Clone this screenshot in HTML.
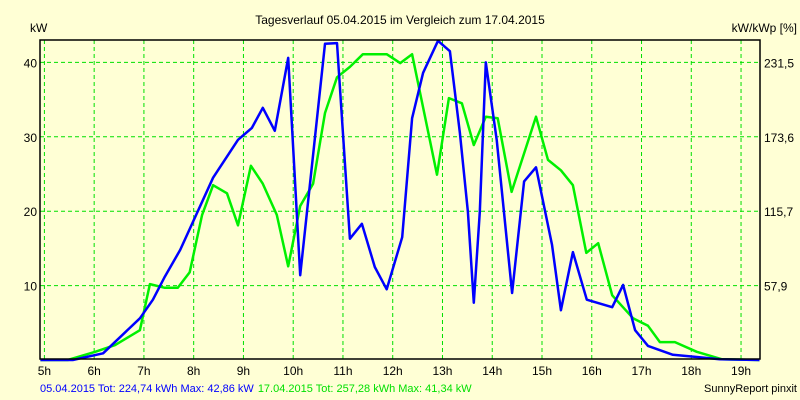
<!DOCTYPE html>
<html><head><meta charset="utf-8"><style>
body{margin:0;background:#FFFFD5;}
svg{display:block;font-family:"Liberation Sans",Arial,sans-serif;}
</style></head><body>
<svg id="chart" width="800" height="400" viewBox="0 0 800 400" xmlns="http://www.w3.org/2000/svg">
<rect x="0" y="0" width="800" height="400" fill="#FFFFD5"/>
<text x="400" y="24" font-size="12" text-anchor="middle" fill="#000">Tagesverlauf 05.04.2015 im Vergleich zum 17.04.2015</text>
<text x="30" y="32" font-size="12" fill="#000">kW</text>
<text x="797" y="32" font-size="12" text-anchor="end" fill="#000">kW/kWp [%]</text>
<g id="grid"></g>
<g id="series"></g>
<rect x="40" y="40" width="720" height="319" fill="none" stroke="#000" stroke-width="1.5"/>
<g id="labels" font-size="12"></g>
<text x="40" y="392" font-size="11"><tspan fill="#0000FF">05.04.2015 Tot: 224,74 kWh Max: 42,86 kW</tspan><tspan fill="#00E000" dx="4">17.04.2015 Tot: 257,28 kWh Max: 41,34 kW</tspan></text>
<text x="797" y="392" font-size="11" text-anchor="end" fill="#000">SunnyReport pinxit</text>
</svg>
<script>
const xTicks=[5,6,7,8,9,10,11,12,13,14,15,16,17,18,19];
const yTicks=[10,20,30,40];
const yTicksRight=["57,9","115,7","173,6","231,5"];
const blueTimes=[4.92,5.57,6.18,6.92,7.18,7.42,7.73,8.39,8.89,9.17,9.39,9.63,9.90,10.14,10.64,10.88,11.14,11.38,11.64,11.88,12.19,12.39,12.61,12.91,13.15,13.35,13.51,13.63,13.75,13.87,14.09,14.40,14.64,14.88,15.20,15.38,15.62,15.90,16.41,16.63,16.87,17.13,17.63,18.11,18.57,19.37];
const blueValues=[0,0,0.9,5.6,8.1,11.2,14.8,24.5,29.6,31.2,33.9,30.8,40.6,11.4,42.5,42.6,16.3,18.3,12.5,9.5,16.5,32.5,38.6,42.9,41.5,30.5,19.9,7.7,19.9,40.0,29.6,9.0,24.0,25.9,15.5,6.7,14.5,8.1,7.1,10.1,4.0,1.9,0.7,0.4,0.1,0];
const greenTimes=[4.92,5.47,6.02,6.42,6.92,7.12,7.42,7.68,7.92,8.17,8.39,8.67,8.89,9.15,9.39,9.67,9.90,10.14,10.40,10.64,10.88,11.14,11.40,11.88,12.15,12.39,12.89,13.13,13.39,13.63,13.87,14.11,14.39,14.88,15.12,15.38,15.62,15.89,16.13,16.41,16.83,17.13,17.37,17.67,18.11,18.62,19.37];
const greenValues=[0,0,1.1,2.0,4.0,10.2,9.7,9.7,11.8,19.5,23.5,22.4,18.1,26.1,23.7,19.5,12.6,20.7,23.7,33.2,38.0,39.4,41.1,41.1,39.9,41.1,24.9,35.2,34.5,28.9,32.7,32.5,22.6,32.7,26.9,25.5,23.5,14.4,15.7,8.7,5.6,4.6,2.4,2.4,1.1,0.1,0];
const NS="http://www.w3.org/2000/svg";
function xS(t){return 44.4+(t-5)*49.76;}
function yS(v){return 360-v*7.44;}
function mk(tag,attrs,parent){const e=document.createElementNS(NS,tag);for(const k in attrs)e.setAttribute(k,attrs[k]);parent.appendChild(e);return e;}
const grid=document.getElementById('grid'),labels=document.getElementById('labels'),series=document.getElementById('series');
xTicks.forEach(h=>{
  const l=mk('line',{x1:xS(h),x2:xS(h),y1:40,y2:359,stroke:'#00E000','stroke-width':1,'stroke-dasharray':'4,3'},grid);
  
  
  const t=mk('text',{x:xS(h),y:375,'text-anchor':'middle',fill:'#000'},labels);
  t.textContent=h+'h';
  
  
});
yTicks.forEach((v,i)=>{
  const l=mk('line',{x1:40,x2:760,y1:yS(v),y2:yS(v),stroke:'#00E000','stroke-width':1,'stroke-dasharray':'4,3'},grid);
  
  
  const t=mk('text',{x:37,y:yS(v)+5,'text-anchor':'end',fill:'#000'},labels);
  t.textContent=v;
  
  
  const r=mk('text',{x:764,y:yS(v)+5,fill:'#000'},labels);
  r.textContent=yTicksRight[i];
  
  
});
function line(times,vals,color,name){
  const pts=times.map((t,i)=>xS(t).toFixed(1)+','+yS(vals[i]).toFixed(1)).join(' ');
  const p=mk('polyline',{points:pts,fill:'none',stroke:color,'stroke-width':2.5,'stroke-linejoin':'round'},series);
  
  
}
line(greenTimes,greenValues,'#00F000','series-17-04-2015');
line(blueTimes,blueValues,'#0000FF','series-05-04-2015');
</script>
</body></html>
